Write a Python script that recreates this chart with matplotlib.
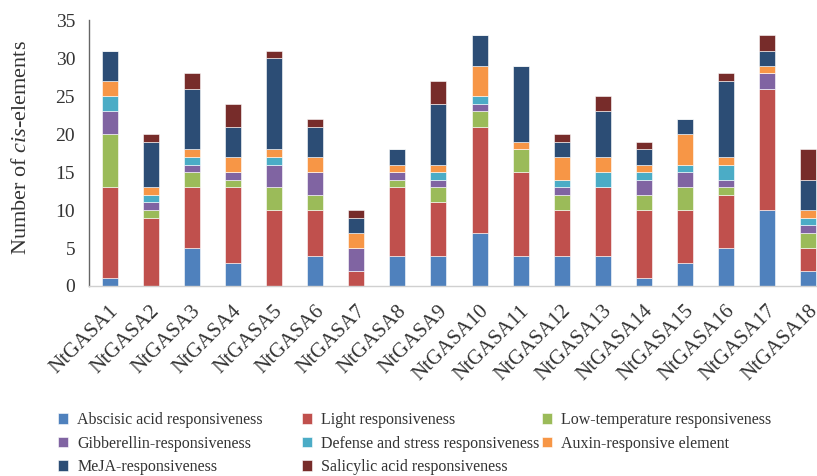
import matplotlib
matplotlib.use("Agg")
import matplotlib.pyplot as plt
import matplotlib.transforms as mtransforms
import numpy as np

plt.rcParams['font.family'] = ['Liberation Serif', 'DejaVu Serif']
plt.rcParams['mathtext.fontset'] = 'custom'
plt.rcParams['mathtext.it'] = 'Liberation Serif:italic'
plt.rcParams['mathtext.rm'] = 'Liberation Serif'

genes = ["NtGASA%d" % i for i in range(1, 19)]

abscisic = [1, 0, 5, 3, 0, 4, 0, 4, 4, 7, 4, 4, 4, 1, 3, 5, 10, 2]
light = [12, 9, 8, 10, 10, 6, 2, 9, 7, 14, 11, 6, 9, 9, 7, 7, 16, 3]
low_temp = [7, 1, 2, 1, 3, 2, 0, 1, 2, 2, 3, 2, 0, 2, 3, 1, 0, 2]
gibberellin = [3, 1, 1, 1, 3, 3, 3, 1, 1, 1, 0, 1, 0, 2, 2, 1, 2, 1]
defense = [2, 1, 1, 0, 1, 0, 0, 0, 1, 1, 0, 1, 2, 1, 1, 2, 0, 1]
auxin = [2, 1, 1, 2, 1, 2, 2, 1, 1, 4, 1, 3, 2, 1, 4, 1, 1, 1]
meja = [4, 6, 8, 4, 12, 4, 2, 2, 8, 4, 10, 2, 6, 2, 2, 10, 2, 4]
salicylic = [0, 1, 2, 3, 1, 1, 1, 0, 3, 0, 0, 1, 2, 1, 0, 1, 2, 4]

series = [
    ("Abscisic acid responsiveness", abscisic, "#4F81BD"),
    ("Light responsiveness", light, "#C0504D"),
    ("Low-temperature responsiveness", low_temp, "#9BBB59"),
    ("Gibberellin-responsiveness", gibberellin, "#8064A2"),
    ("Defense and stress responsiveness", defense, "#4BACC6"),
    ("Auxin-responsive element", auxin, "#F79646"),
    ("MeJA-responsiveness", meja, "#2C4D75"),
    ("Salicylic acid responsiveness", salicylic, "#772C2A"),
]

W, H = 817, 476
fig = plt.figure(figsize=(W / 100, H / 100), dpi=100)
ax = fig.add_axes([89 / W, 190 / H, 740 / W, 265.7 / H])

x = np.arange(len(genes))
bottom = np.zeros(len(genes))
handles = []
for name, vals, col in series:
    b = ax.bar(x, vals, width=0.39, bottom=bottom, color=col,
               edgecolor="white", linewidth=0.4, label=name)
    bottom += np.array(vals)
    handles.append(b)

ax.set_xlim(-0.5, len(genes) - 0.5)
ax.set_ylim(0, 35)
ax.set_yticks(range(0, 36, 5))
ax.tick_params(axis="y", length=0, labelsize=14, pad=10, labelcolor="#333333")
ax.tick_params(axis="x", length=0, labelsize=15, pad=16, labelcolor="#333333")
ax.set_xticks(x)
ax.set_xticklabels(genes, rotation=45, ha="right", va="center", rotation_mode="anchor")
shift = mtransforms.ScaledTranslation(6 / 100, 0, fig.dpi_scale_trans)
for lab in ax.get_xticklabels():
    lab.set_transform(lab.get_transform() + shift)

for s in ["top", "right"]:
    ax.spines[s].set_visible(False)
ax.spines["left"].set_color("#666666")
ax.spines["left"].set_linewidth(1.0)
ax.spines["bottom"].set_color("#D0D0D0")
ax.spines["bottom"].set_linewidth(1.0)

ax.set_ylabel(r"Number of $\mathit{cis}$-elements", fontsize=16, color="#333333")
ax.yaxis.set_label_coords(-0.078, 0.52)

# legend: three columns placed like the original, filled row by row
columns = [[0, 3, 6], [1, 4, 7], [2, 5]]
col_x = [58, 302, 542]
for idx, cx in zip(columns, col_x):
    leg = fig.legend([handles[i] for i in idx], [series[i][0] for i in idx],
                     loc="upper left", bbox_to_anchor=(cx / W, 1 - 412 / H),
                     ncol=1, frameon=False, fontsize=11.5, handlelength=0.65,
                     handleheight=0.65, handletextpad=0.55, borderpad=0,
                     borderaxespad=0, labelspacing=0.48)
    for t in leg.get_texts():
        t.set_color("#333333")

fig.savefig("out.png", dpi=100)
